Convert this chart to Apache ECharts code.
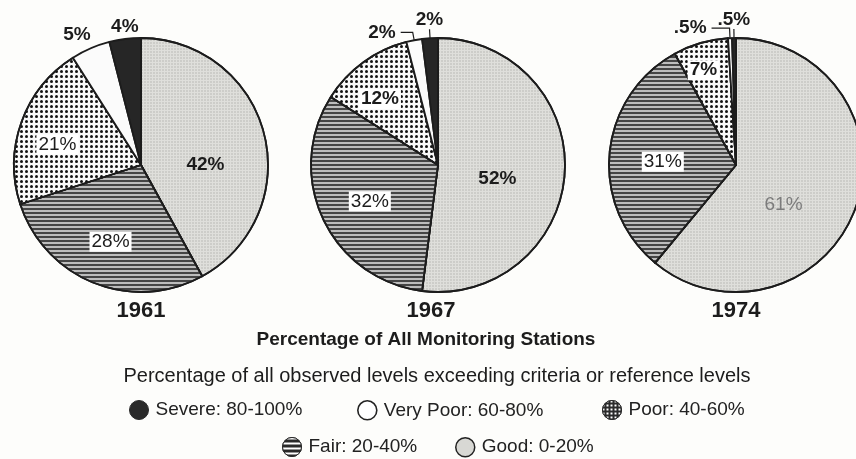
<!DOCTYPE html>
<html><head><meta charset="utf-8">
<script src="https://cdn.jsdelivr.net/npm/echarts/dist/echarts.min.js"></script>
<style>html,body{margin:0;padding:0;background:#fdfdfb}#c{width:856px;height:459px}</style>
</head><body><div id="c"></div>
<script>
// ---- data ----
const categories = ['Good: 0-20%', 'Fair: 20-40%', 'Poor: 40-60%', 'Very Poor: 60-80%', 'Severe: 80-100%'];
const years = ['1961', '1967', '1974'];
const values1961 = [42, 28, 21, 5, 4];
const values1967 = [52, 32, 12, 2, 2];
const values1974 = [61, 31, 7, 0.5, 0.5];
const titleText = 'Percentage of All Monitoring Stations';
const subtitleText = 'Percentage of all observed levels exceeding criteria or reference levels';

// ---- styling / layout ----
const FONT = '"Liberation Sans", Arial, Helvetica, sans-serif';
const INK = '#1c1c1c';
const CX = [141, 438, 736], CY = 165, R = 127;
const YEAR_X = [141, 431, 736];

const sliceStyles = [
  { color: '#dfdfdb', decal: { symbol: 'circle', symbolSize: 0.7, dashArrayX: [2, 1], dashArrayY: [2, 1], color: 'rgba(110,110,110,0.45)' } },
  { color: '#bdbdbd', decal: { symbol: 'rect', symbolSize: 1, dashArrayX: [10, 0], dashArrayY: [1.7, 1.5], color: '#454545' } },
  { color: '#f8f8f8', decal: { symbol: 'circle', symbolSize: 1, dashArrayX: [2.7, 1.3], dashArrayY: [2.7, 1.3], color: '#111' } },
  { color: '#fbfbfb' },
  { color: '#262626' }
];

const BOX = { backgroundColor: '#fff', padding: [1, 2, 0, 2] };
const labelSpecs = [
  [ { fontWeight: 'bold' }, Object.assign({ fontWeight: 'normal' }, BOX), Object.assign({ fontWeight: 'normal' }, BOX), { fontWeight: 'bold', position: 'outside' }, { fontWeight: 'bold', position: 'outside' } ],
  [ { fontWeight: 'bold' }, Object.assign({ fontWeight: 'normal' }, BOX), Object.assign({ fontWeight: 'bold' }, BOX), { fontWeight: 'bold', position: 'outside' }, { fontWeight: 'bold', position: 'outside' } ],
  [ { fontWeight: 'normal', color: '#7c7c7c' }, Object.assign({ fontWeight: 'normal' }, BOX), Object.assign({ fontWeight: 'bold' }, BOX), { fontWeight: 'bold', position: 'outside' }, { fontWeight: 'bold', position: 'outside' } ]
];
const lineSpecs = [
  [null, null, null, { show: false, length: 10, length2: 0 }, { show: false, length: 2, length2: 0 }],
  [null, null, null, { show: true, length: 8, length2: 12 }, { show: true, length: 8, length2: 0 }],
  [null, null, null, { show: true, length: 10, length2: 18 }, { show: true, length: 8, length2: 0 }]
];
const labelAdjust = [
  [[0, 16], [-6, 15], [-21, 2], [9, -5], 'above'],
  [[-7, 10], [-8, 8], [-19, -12], [0, 0], 'above'],
  [[-15, 17], [-7, 3], [-14, -31], [0, 0], 'above']
];

function fmt(p) {
  const v = p.value;
  return (v < 1 ? String(v).replace(/^0/, '') : String(v)) + '%';
}

function makeSeries(values, k) {
  return {
    type: 'pie', center: [CX[k], CY], radius: [0, R], startAngle: 90, clockwise: true,
    avoidLabelOverlap: false, animation: false, silent: true,
    itemStyle: { borderColor: INK, borderWidth: 1.8 },
    label: { show: true, position: 'inside', formatter: fmt, fontSize: 19, color: INK, fontFamily: FONT },
    labelLine: { show: false, lineStyle: { color: INK, width: 1.2 } },
    labelLayout: function (p) {
      const a = labelAdjust[k][p.dataIndex];
      if (a === 'above' && p.labelLinePoints) {
        const e = p.labelLinePoints[p.labelLinePoints.length - 1];
        return { x: e[0], y: e[1] - 1, align: 'center', verticalAlign: 'bottom' };
      }
      if (Array.isArray(a)) return { dx: a[0], dy: a[1] };
      return {};
    },
    data: values.map((v, i) => {
      const d = { name: categories[i], value: v, itemStyle: sliceStyles[i], label: labelSpecs[k][i] };
      if (lineSpecs[k][i]) d.labelLine = lineSpecs[k][i];
      return d;
    })
  };
}

const legendText = { fontSize: 19, color: '#222', fontFamily: FONT, padding: [0, 0, 0, 2] };
const legendIcons = [
  { color: '#d8d8d4', borderColor: '#222', borderWidth: 1.5, decal: 'none' },
  { color: '#2a2a2a', borderColor: '#2a2a2a', borderWidth: 1, decal: { symbol: 'rect', symbolSize: 1, dashArrayX: [10, 0], dashArrayY: [1.5, 2.5], color: '#fff' } },
  { color: '#2a2a2a', borderColor: '#2a2a2a', borderWidth: 1, decal: { symbol: 'rect', symbolSize: 1, dashArrayX: [2, 2], dashArrayY: [2, 2], color: '#fff' } },
  { color: '#ffffff', borderColor: '#222', borderWidth: 1.6, decal: 'none' },
  { color: '#2a2a2a', borderColor: '#2a2a2a', borderWidth: 1, decal: 'none' }
];
// legend placement: [categoryIndex, left, top]
const legendPos = [[4, 129, 400], [3, 357, 400], [2, 602, 400], [1, 282, 437], [0, 455, 437]];
const legends = legendPos.map(([ci, l, t]) => ({
  left: l, top: t, padding: 0, icon: 'circle', itemWidth: 19, itemHeight: 19, selectedMode: false,
  textStyle: legendText,
  data: [{ name: categories[ci], itemStyle: legendIcons[ci] }]
}));

const titleStyle = (size, weight) => ({ fontSize: size, fontWeight: weight, color: INK, fontFamily: FONT });
const option = {
  backgroundColor: '#fdfdfb',
  textStyle: { fontFamily: FONT },
  title: [
    { text: years[0], left: YEAR_X[0], top: 300, padding: 0, textAlign: 'center', textStyle: titleStyle(22, 'bold') },
    { text: years[1], left: YEAR_X[1], top: 300, padding: 0, textAlign: 'center', textStyle: titleStyle(22, 'bold') },
    { text: years[2], left: YEAR_X[2], top: 300, padding: 0, textAlign: 'center', textStyle: titleStyle(22, 'bold') },
    { text: titleText, left: 426, top: 330, padding: 0, textAlign: 'center', textStyle: titleStyle(19, 'bold') },
    { text: subtitleText, left: 437, top: 366, padding: 0, textAlign: 'center', textStyle: titleStyle(20, 'normal') }
  ],
  legend: legends,
  series: [makeSeries(values1961, 0), makeSeries(values1967, 1), makeSeries(values1974, 2)]
};

const chart = echarts.init(document.getElementById('c'), null, { renderer: 'canvas' });
chart.setOption(option);
</script>
</body></html>
